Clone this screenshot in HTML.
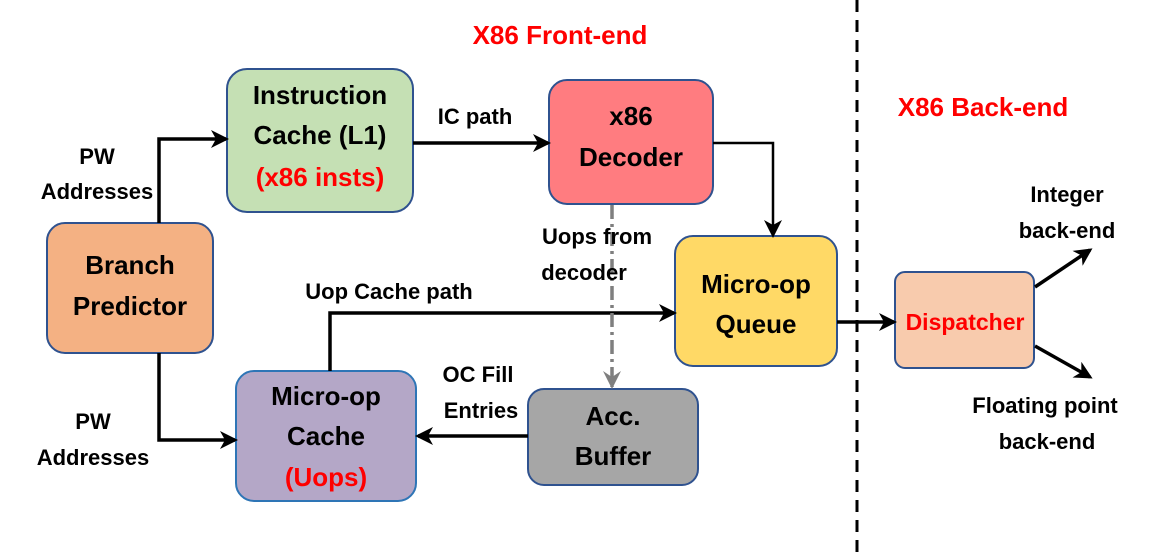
<!DOCTYPE html>
<html><head><meta charset="utf-8"><style>
html,body{margin:0;padding:0;background:#fff;}
svg{display:block;}
text{font-family:"Liberation Sans",sans-serif;font-weight:bold;}
</style></head><body>
<svg width="1163" height="554" viewBox="0 0 1163 554" xmlns="http://www.w3.org/2000/svg">
<defs>
<marker id="a" markerWidth="18" markerHeight="18" refX="15" refY="9" orient="auto" markerUnits="userSpaceOnUse">
<path d="M0,0 L18,9 L0,18 L5,9 z" fill="#000"/>
</marker>
<marker id="g" markerWidth="18" markerHeight="18" refX="16" refY="9" orient="auto" markerUnits="userSpaceOnUse">
<path d="M0,0 L18,9 L0,18 L6,9 z" fill="#7f7f7f"/>
</marker>
</defs>

<line x1="857" y1="0" x2="857" y2="554" stroke="#000" stroke-width="3" stroke-dasharray="12,8"/>

<rect x="227" y="69" width="186" height="143" rx="20" fill="#c5e0b4" stroke="#2f528f" stroke-width="2"/>
<rect x="549" y="80" width="164" height="124" rx="18" fill="#ff7c80" stroke="#2f528f" stroke-width="2"/>
<rect x="47" y="223" width="166" height="130" rx="18" fill="#f4b183" stroke="#2f528f" stroke-width="2"/>
<rect x="675" y="236" width="162" height="130" rx="18" fill="#ffd966" stroke="#2f528f" stroke-width="2"/>
<rect x="236" y="371" width="180" height="130" rx="18" fill="#b4a7c7" stroke="#2e75b6" stroke-width="2"/>
<rect x="528" y="389" width="170" height="96" rx="16" fill="#a6a6a6" stroke="#2f528f" stroke-width="2"/>
<rect x="895" y="272" width="139" height="96" rx="10" fill="#f8cbad" stroke="#2f528f" stroke-width="2"/>

<g stroke="#000" stroke-width="3.5" fill="none">
<polyline points="159,223 159,139 226,139" marker-end="url(#a)"/>
<line x1="413" y1="143" x2="548" y2="143" marker-end="url(#a)"/>
<polyline points="713,143 773,143 773,235" marker-end="url(#a)" stroke-width="2.5"/>
<polyline points="330,371 330,313 674,313" marker-end="url(#a)"/>
<polyline points="159,353 159,440 235,440" marker-end="url(#a)"/>
<line x1="528" y1="436" x2="418" y2="436" marker-end="url(#a)"/>
<line x1="837" y1="322" x2="894" y2="322" marker-end="url(#a)"/>
<line x1="1035" y1="287" x2="1090" y2="250" marker-end="url(#a)"/>
<line x1="1035" y1="346" x2="1090" y2="377" marker-end="url(#a)"/>
</g>
<line x1="612" y1="205" x2="612" y2="387" stroke="#7f7f7f" stroke-width="3.5" stroke-dasharray="14,5,3,5" marker-end="url(#g)"/>

<g font-size="26" text-anchor="middle" fill="#000">
<text x="320" y="104">Instruction</text>
<text x="320" y="144">Cache (L1)</text>
<text x="320" y="186" fill="#ff0000">(x86 insts)</text>
<text x="631" y="125">x86</text>
<text x="631" y="166">Decoder</text>
<text x="130" y="274">Branch</text>
<text x="130" y="315">Predictor</text>
<text x="756" y="293">Micro-op</text>
<text x="756" y="333">Queue</text>
<text x="326" y="405">Micro-op</text>
<text x="326" y="445">Cache</text>
<text x="326" y="486" fill="#ff0000">(Uops)</text>
<text x="613" y="425">Acc.</text>
<text x="613" y="465">Buffer</text>
<text x="965" y="330" fill="#ff0000" font-size="23">Dispatcher</text>
</g>

<g font-size="22" text-anchor="middle" fill="#000">
<text x="97" y="164">PW</text>
<text x="97" y="199">Addresses</text>
<text x="93" y="429">PW</text>
<text x="93" y="465">Addresses</text>
<text x="475" y="124">IC path</text>
<text x="597" y="244">Uops from</text>
<text x="584" y="280">decoder</text>
<text x="389" y="299">Uop Cache path</text>
<text x="478" y="382">OC Fill</text>
<text x="481" y="418">Entries</text>
<text x="1067" y="202">Integer</text>
<text x="1067" y="238">back-end</text>
<text x="1045" y="413">Floating point</text>
<text x="1047" y="449">back-end</text>
</g>

<g font-size="26" fill="#ff0000" font-weight="bold" text-anchor="middle">
<text x="560" y="44">X86 Front-end</text>
<text x="983" y="116">X86 Back-end</text>
</g>
</svg>
</body></html>
